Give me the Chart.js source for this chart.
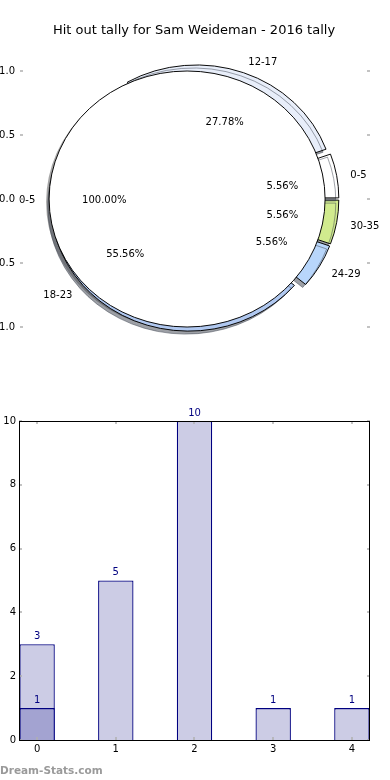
<!DOCTYPE html>
<html>
<head>
<meta charset="utf-8">
<script src="https://cdn.jsdelivr.net/npm/chart.js@4"></script>
<style>
body { margin: 0; background: #fff; font-family: "DejaVu Sans", sans-serif; }
#wrap { position: relative; width: 390px; height: 780px; overflow: hidden; }
.pie { position: absolute; left: 0; top: 0; }
#title { position: absolute; left: 0; width: 388px; top: 22px; line-height: 16px; text-align: center; font-size: 13px; color: #000; }
#bars { position: absolute; left: 0; top: 405px; }
#mark { position: absolute; left: 0; top: 763px; line-height: 14px; font-size: 10.5px; font-weight: bold; color: #9a9a9a; }
</style>
</head>
<body>
<div id="wrap">
  <canvas id="pieShadow" class="pie" width="388" height="398"></canvas>
  <canvas id="pieOuter" class="pie" width="388" height="398"></canvas>
  <canvas id="pieInner" class="pie" width="388" height="398"></canvas>
  <div id="title">Hit out tally for Sam Weideman - 2016 tally</div>
  <canvas id="bars" width="390" height="355"></canvas>
  <div id="mark">Dream-Stats.com</div>
</div>
<script>
// pie: age groups
const pieLabels = ['0-5', '12-17', '18-23', '24-29', '30-35'];
const pieValues = [1, 5, 10, 1, 1];
const pieColors = ['#ffffff', '#e8eefa', '#b0c8f0', '#b8d6fb', '#d1eb8e'];
// second pie drawn on top (single wedge)
const allLabels = ['0-5'];
const allValues = [1];
const allColors = ['#ffffff'];
const pieTicks = [1.0, 0.5, 0.0, -0.5, -1.0];

// bars
const barX = [0, 1, 2, 3, 4];
const barAll = [3, 5, 10, 1, 1];
const barFirstX = [0];
const barFirst = [1];

const RX = 138, RY = 128, K = RY / RX, EXPLODE = 0.05;
const FONT = '"DejaVu Sans", sans-serif';

const centerOf = chart => ({
    cx: (chart.chartArea.left + chart.chartArea.right) / 2,
    cy: (chart.chartArea.top + chart.chartArea.bottom) / 2
});

// explode every wedge a bit and squash the circle into an ellipse
const squash = {
    id: 'squash',
    afterDatasetUpdate(chart) {
        chart.getDatasetMeta(0).data.forEach(a => {
            const mid = (a.startAngle + a.endAngle) / 2;
            a.x += Math.cos(mid) * EXPLODE * a.outerRadius;
            a.y += Math.sin(mid) * EXPLODE * a.outerRadius;
        });
    },
    beforeDatasetsDraw(chart, args, opts) {
        const ctx = chart.ctx;
        const {cx, cy} = centerOf(chart);
        ctx.save();
        ctx.translate(cx, cy);
        ctx.scale(1, K);
        ctx.translate(-cx, -cy);
        if (opts.shadow) {
            ctx.shadowColor = opts.shadow;
            ctx.shadowOffsetX = -3;
            ctx.shadowOffsetY = 3;
            ctx.shadowBlur = 0;
        }
    },
    afterDatasetsDraw(chart, args, opts) {
        const ctx = chart.ctx;
        if (opts.outline) {
            // a full wedge has no radial edges, only its rim
            ctx.strokeStyle = '#000';
            ctx.lineWidth = 1;
            chart.getDatasetMeta(0).data.forEach(a => {
                ctx.beginPath();
                ctx.arc(a.x, a.y, a.outerRadius, 0, Math.PI * 2);
                ctx.stroke();
            });
        }
        ctx.restore();
    }
};

const makePie = (id, labels, values, colors, border, plugins, pluginOpts) => new Chart(id, {
    type: 'pie',
    data: {
        labels: labels.slice().reverse(),
        datasets: [{
            data: values.slice().reverse(),
            backgroundColor: colors.slice().reverse(),
            borderColor: '#000',
            borderWidth: border,
            clip: false
        }]
    },
    options: {
        responsive: false,
        animation: false,
        events: [],
        rotation: 90,
        radius: RX,
        layout: {padding: 0},
        plugins: Object.assign({legend: {display: false}, tooltip: {enabled: false}}, pluginOpts)
    },
    plugins: [squash].concat(plugins)
});

// labels for both pies, plus the y ticks of the pie axes
const pieText = {
    id: 'pieText',
    afterDraw(chart) {
        const ctx = chart.ctx;
        const {cx, cy} = centerOf(chart);
        ctx.save();
        ctx.font = '10px ' + FONT;
        ctx.fillStyle = '#000';
        ctx.textBaseline = 'middle';
        [outerPie, chart].forEach(c => {
            const meta = c.getDatasetMeta(0);
            const vals = c.data.datasets[0].data;
            const total = vals.reduce((s, v) => s + v, 0);
            meta.data.forEach((a, i) => {
                const mid = (a.startAngle + a.endAngle) / 2;
                const R = a.outerRadius;
                const lx = a.x + Math.cos(mid) * 1.1 * R;
                const ly = cy + (a.y + Math.sin(mid) * 1.1 * R - cy) * K + 1.5;
                ctx.textAlign = Math.cos(mid) > 0 ? 'left' : 'right';
                ctx.fillText(c.data.labels[i], lx, ly);
                const px = a.x + Math.cos(mid) * 0.6 * R;
                const py = cy + (a.y + Math.sin(mid) * 0.6 * R - cy) * K + 1.5;
                ctx.textAlign = 'center';
                ctx.fillText((vals[i] / total * 100).toFixed(2) + '%', px, py);
            });
        });
        // axis ticks
        ctx.textAlign = 'right';
        ctx.strokeStyle = '#b0b0b0';
        ctx.lineWidth = 1.5;
        pieTicks.forEach(v => {
            const y = Math.round(cy - v * RY);
            ctx.fillText(v.toFixed(1), 15, y + 0.5);
            ctx.beginPath();
            ctx.moveTo(20, y); ctx.lineTo(23, y);
            ctx.moveTo(367, y); ctx.lineTo(370, y);
            ctx.stroke();
        });
        ctx.restore();
    }
};

const shadowPie = makePie('pieShadow', allLabels, allValues, allColors, 0, [], {squash: {shadow: 'rgba(77,77,77,0.5)'}});
const outerPie = makePie('pieOuter', pieLabels, pieValues, pieColors, 1, [], {squash: {shadow: 'rgba(60,66,78,0.5)'}});
const innerPie = makePie('pieInner', allLabels, allValues, allColors, 0, [pieText], {squash: {outline: true}});

// bar chart helpers
const barText = {
    id: 'barText',
    afterDatasetsDraw(chart) {
        const ctx = chart.ctx;
        ctx.save();
        ctx.font = '10px ' + FONT;
        ctx.fillStyle = '#000080';
        ctx.textAlign = 'center';
        ctx.textBaseline = 'bottom';
        chart.data.datasets.forEach((ds, d) => {
            chart.getDatasetMeta(d).data.forEach((bar, i) => {
                ctx.fillText(String(ds.data[i].y), bar.x, bar.y - 3);
            });
        });
        ctx.restore();
    }
};

const frame = {
    id: 'frame',
    afterDraw(chart) {
        const {ctx, chartArea: a, scales} = chart;
        ctx.save();
        ctx.strokeStyle = '#b0b0b0';
        ctx.lineWidth = 1.5;
        ctx.beginPath();
        scales.y.ticks.forEach(t => {
            const y = Math.round(scales.y.getPixelForValue(t.value));
            ctx.moveTo(a.left, y); ctx.lineTo(a.left + 3, y);
            ctx.moveTo(a.right - 3, y); ctx.lineTo(a.right, y);
        });
        scales.x.ticks.forEach(t => {
            const x = Math.round(scales.x.getPixelForValue(t.value));
            ctx.moveTo(x, a.top); ctx.lineTo(x, a.top + 3);
            ctx.moveTo(x, a.bottom - 3); ctx.lineTo(x, a.bottom);
        });
        ctx.stroke();
        ctx.strokeStyle = '#000';
        ctx.lineWidth = 1;
        ctx.strokeRect(Math.round(a.left) + 0.5, Math.round(a.top) + 0.5,
            Math.round(a.right - a.left) - 1, Math.round(a.bottom - a.top));
        ctx.restore();
    }
};

const tickFont = {family: FONT, size: 10};

new Chart('bars', {
    type: 'bar',
    data: {
        datasets: [{
            data: barX.map((x, i) => ({x: x, y: barAll[i]})),
            backgroundColor: '#ccccE5',
            borderColor: '#000080',
            borderWidth: 1.3,
            grouped: false,
            order: 2
        }, {
            data: barFirstX.map((x, i) => ({x: x, y: barFirst[i]})),
            backgroundColor: '#a3a3d1',
            borderColor: '#000080',
            borderWidth: 1.3,
            grouped: false,
            order: 1
        }]
    },
    options: {
        responsive: false,
        animation: false,
        events: [],
        barPercentage: 0.45,
        categoryPercentage: 1,
        layout: {padding: {top: 16, right: 20, left: 0, bottom: 0}},
        plugins: {legend: {display: false}, tooltip: {enabled: false}},
        scales: {
            x: {
                type: 'linear',
                offset: false,
                min: -0.23,
                max: 4.23,
                grid: {display: false, drawTicks: false},
                border: {display: false},
                ticks: {stepSize: 1, includeBounds: false, font: tickFont, color: '#000', padding: 3, maxRotation: 0},
                afterFit: s => { s.height = 20; }
            },
            y: {
                min: 0,
                max: 10,
                grid: {display: false, drawTicks: false},
                border: {display: false},
                ticks: {stepSize: 2, font: tickFont, color: '#000', padding: 3},
                afterFit: s => { s.width = 19; }
            }
        }
    },
    plugins: [barText, frame]
});
</script>
</body>
</html>
